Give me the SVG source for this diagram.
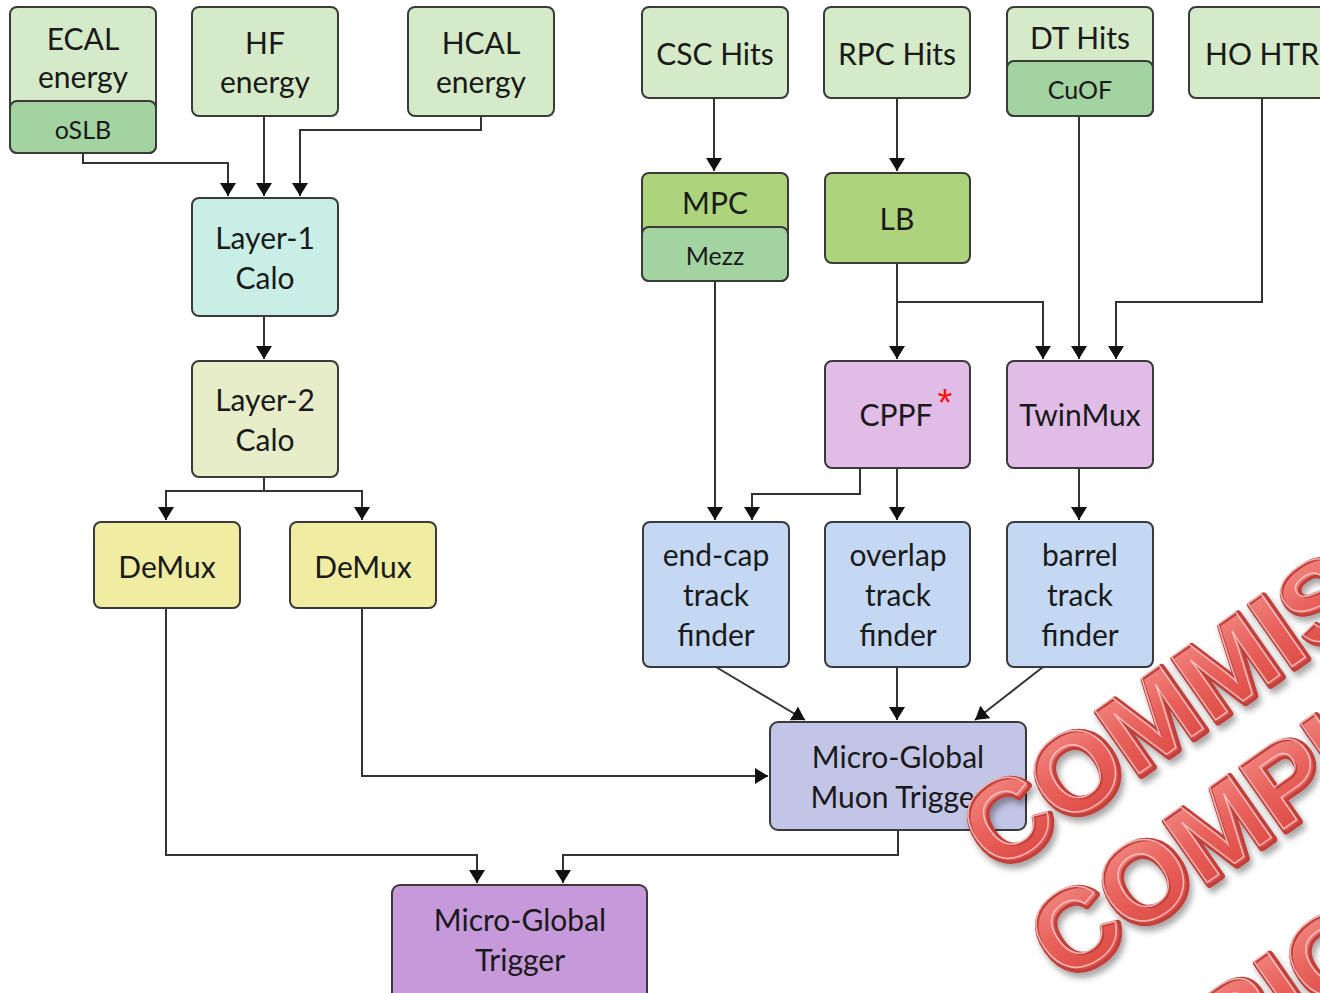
<svg xmlns="http://www.w3.org/2000/svg" width="1320" height="993" viewBox="0 0 1320 993">
  <defs>
    <marker id="arrow" markerUnits="userSpaceOnUse" markerWidth="13" markerHeight="16" refX="13" refY="8" orient="auto">
      <path d="M0,0 L13,8 L0,16 Z" fill="#111"/>
    </marker>
    <linearGradient id="stampFill" x1="0" y1="0" x2="0" y2="1">
      <stop offset="0" stop-color="#f4938e"/>
      <stop offset="0.45" stop-color="#e9625c"/>
      <stop offset="1" stop-color="#d8423d"/>
    </linearGradient>
    <filter id="stampShadow" x="-10%" y="-10%" width="130%" height="140%">
      <feDropShadow dx="3" dy="5" stdDeviation="3" flood-color="#000" flood-opacity="0.35"/>
    </filter>
    <style>
      .box { stroke: #3a3a3a; stroke-width: 2; }
      .src { fill: #d4eac8; }
      .sub { fill: #a4d3a2; }
      .grn { fill: #add47d; }
      .l1 { fill: #c9eee6; }
      .l2 { fill: #e6edc8; }
      .dmx { fill: #f0eca2; }
      .pnk { fill: #e0bce6; }
      .tf { fill: #c4d8f4; }
      .mgmt { fill: #c3c5e6; }
      .mgt { fill: #c699da; }
      text { font-family: Lato, "Open Sans", "Liberation Sans", sans-serif; fill: #1a1a1a; text-anchor: middle; }
      .t { font-size: 30px; }
      .s { font-size: 25px; }
      .wire { fill: none; stroke: #333; stroke-width: 2; }
      .stamp { font-family: "Liberation Sans", Arial, sans-serif; font-weight: bold; font-size: 112px; fill: url(#stampFill); stroke: #c0403b; stroke-width: 7; stroke-linejoin: round; paint-order: stroke; text-anchor: start; }
      .gloss { font-family: "Liberation Sans", Arial, sans-serif; font-weight: bold; font-size: 112px; fill: none; stroke: #ffdad8; stroke-width: 1.5; stroke-opacity: 0.75; text-anchor: start; }
    </style>
  </defs>

  <rect width="1320" height="993" fill="#fff"/>

  <!-- connectors -->
  <g id="connectors">
    <path class="wire" d="M83,153 V163 H228 V196" marker-end="url(#arrow)"/>
    <path class="wire" d="M264,116 V196" marker-end="url(#arrow)"/>
    <path class="wire" d="M481,116 V130 H300 V196" marker-end="url(#arrow)"/>
    <path class="wire" d="M264,316 V359" marker-end="url(#arrow)"/>
    <path class="wire" d="M264,477 V491"/>
    <path class="wire" d="M264,491 H166 V520" marker-end="url(#arrow)"/>
    <path class="wire" d="M264,491 H362 V520" marker-end="url(#arrow)"/>
    <path class="wire" d="M714,98 V171" marker-end="url(#arrow)"/>
    <path class="wire" d="M897,98 V171" marker-end="url(#arrow)"/>
    <path class="wire" d="M715,281 V520" marker-end="url(#arrow)"/>
    <path class="wire" d="M897,263 V359" marker-end="url(#arrow)"/>
    <path class="wire" d="M897,302 H1043 V359" marker-end="url(#arrow)"/>
    <path class="wire" d="M1079,116 V359" marker-end="url(#arrow)"/>
    <path class="wire" d="M1262,98 V302 H1116 V359" marker-end="url(#arrow)"/>
    <path class="wire" d="M860,468 V494 H752 V520" marker-end="url(#arrow)"/>
    <path class="wire" d="M897,468 V520" marker-end="url(#arrow)"/>
    <path class="wire" d="M1079,468 V520" marker-end="url(#arrow)"/>
    <path class="wire" d="M716,667 L805,720" marker-end="url(#arrow)"/>
    <path class="wire" d="M897,667 V720" marker-end="url(#arrow)"/>
    <path class="wire" d="M1043,667 L975,720" marker-end="url(#arrow)"/>
    <path class="wire" d="M362,608 V776 H768" marker-end="url(#arrow)"/>
    <path class="wire" d="M166,608 V855 H477 V883" marker-end="url(#arrow)"/>
    <path class="wire" d="M898,830 V855 H563 V883" marker-end="url(#arrow)"/>
  </g>

  <!-- inputs -->
  <g id="ecal">
    <rect class="box src" x="10" y="7" width="146" height="146" rx="7"/>
    <rect class="box sub" x="10" y="101" width="146" height="52" rx="7"/>
    <text class="t" x="83" y="50">ECAL</text>
    <text class="t" x="83" y="88">energy</text>
    <text class="s" x="83" y="139">oSLB</text>
  </g>
  <g id="hf">
    <rect class="box src" x="192" y="7" width="146" height="109" rx="7"/>
    <text class="t" x="265" y="54">HF</text>
    <text class="t" x="265" y="93">energy</text>
  </g>
  <g id="hcal">
    <rect class="box src" x="408" y="7" width="146" height="109" rx="7"/>
    <text class="t" x="481" y="54">HCAL</text>
    <text class="t" x="481" y="93">energy</text>
  </g>
  <g id="csc">
    <rect class="box src" x="642" y="7" width="146" height="91" rx="7"/>
    <text class="t" x="715" y="65">CSC Hits</text>
  </g>
  <g id="rpc">
    <rect class="box src" x="824" y="7" width="146" height="91" rx="7"/>
    <text class="t" x="897" y="65">RPC Hits</text>
  </g>
  <g id="dt">
    <rect class="box src" x="1007" y="7" width="146" height="109" rx="7"/>
    <rect class="box sub" x="1007" y="61" width="146" height="55" rx="7"/>
    <text class="t" x="1080" y="49">DT Hits</text>
    <text class="s" x="1080" y="99">CuOF</text>
  </g>
  <g id="ho">
    <rect class="box src" x="1189" y="7" width="146" height="91" rx="7"/>
    <text class="t" x="1262" y="65">HO HTR</text>
  </g>

  <!-- calorimeter chain -->
  <g id="layer1">
    <rect class="box l1" x="192" y="198" width="146" height="118" rx="7"/>
    <text class="t" x="265" y="249">Layer-1</text>
    <text class="t" x="265" y="289">Calo</text>
  </g>
  <g id="layer2">
    <rect class="box l2" x="192" y="361" width="146" height="116" rx="7"/>
    <text class="t" x="265" y="411">Layer-2</text>
    <text class="t" x="265" y="451">Calo</text>
  </g>
  <g id="demux1">
    <rect class="box dmx" x="94" y="522" width="146" height="86" rx="7"/>
    <text class="t" x="167" y="578">DeMux</text>
  </g>
  <g id="demux2">
    <rect class="box dmx" x="290" y="522" width="146" height="86" rx="7"/>
    <text class="t" x="363" y="578">DeMux</text>
  </g>

  <!-- muon chain -->
  <g id="mpc">
    <rect class="box grn" x="642" y="173" width="146" height="108" rx="7"/>
    <rect class="box sub" x="642" y="227" width="146" height="54" rx="7"/>
    <text class="t" x="715" y="214">MPC</text>
    <text class="s" x="715" y="265">Mezz</text>
  </g>
  <g id="lb">
    <rect class="box grn" x="825" y="173" width="145" height="90" rx="7"/>
    <text class="t" x="897" y="230">LB</text>
  </g>
  <g id="cppf">
    <rect class="box pnk" x="825" y="361" width="145" height="107" rx="7"/>
    <text class="t" x="896" y="426">CPPF</text>
    <text x="945" y="416" style="font-size:38px;fill:#ff1010;font-family:'Liberation Sans',sans-serif;">*</text>
  </g>
  <g id="twinmux">
    <rect class="box pnk" x="1007" y="361" width="146" height="107" rx="7"/>
    <text class="t" x="1080" y="426">TwinMux</text>
  </g>
  <g id="emtf">
    <rect class="box tf" x="643" y="522" width="146" height="145" rx="7"/>
    <text class="t" x="716" y="566">end-cap</text>
    <text class="t" x="716" y="606">track</text>
    <text class="t" x="716" y="646">finder</text>
  </g>
  <g id="omtf">
    <rect class="box tf" x="825" y="522" width="145" height="145" rx="7"/>
    <text class="t" x="898" y="566">overlap</text>
    <text class="t" x="898" y="606">track</text>
    <text class="t" x="898" y="646">finder</text>
  </g>
  <g id="bmtf">
    <rect class="box tf" x="1007" y="522" width="146" height="145" rx="7"/>
    <text class="t" x="1080" y="566">barrel</text>
    <text class="t" x="1080" y="606">track</text>
    <text class="t" x="1080" y="646">finder</text>
  </g>
  <g id="ugmt">
    <rect class="box mgmt" x="770" y="722" width="256" height="108" rx="8"/>
    <text class="t" x="898" y="768">Micro-Global</text>
    <text class="t" x="898" y="808">Muon Trigger</text>
  </g>
  <g id="ugt">
    <rect class="box mgt" x="392" y="885" width="255" height="115" rx="8"/>
    <text class="t" x="520" y="931">Micro-Global</text>
    <text class="t" x="520" y="971">Trigger</text>
  </g>

  <!-- red stamp lettering across the lower right -->
  <g id="stamp" filter="url(#stampShadow)">
    <g transform="translate(998,876) rotate(-35)">
      <text class="stamp" x="0" y="0">COMMIS</text>
      <text class="gloss" x="-1" y="-3">COMMIS</text>
    </g>
    <g transform="translate(1066,985) rotate(-35)">
      <text class="stamp" x="0" y="0">COMPL</text>
      <text class="gloss" x="-1" y="-3">COMPL</text>
    </g>
    <g transform="translate(1157,1127) rotate(-35)">
      <text class="stamp" x="87" y="0">RIG</text>
      <text class="gloss" x="86" y="-3">RIG</text>
    </g>
  </g>
</svg>
